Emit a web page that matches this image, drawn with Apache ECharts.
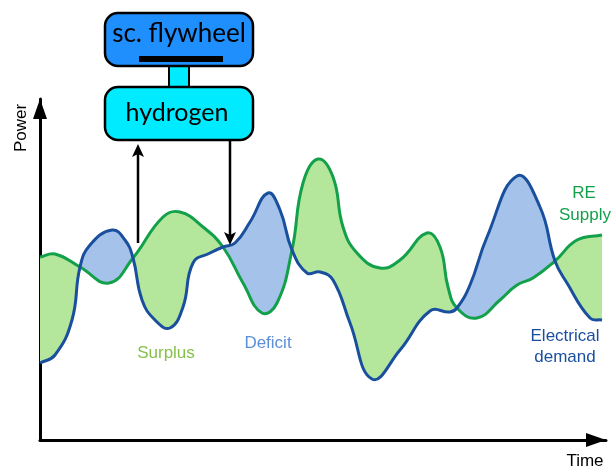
<!DOCTYPE html>
<html>
<head>
<meta charset="utf-8">
<script src="https://cdn.jsdelivr.net/npm/echarts@6/dist/echarts.min.js"></script>
<style>html,body{margin:0;padding:0;background:#fff;}#c{width:613px;height:469px;}</style>
</head>
<body>
<div id="c"></div>
<script>
// Time (x) and power (y) samples
const supplyX = [0, 15, 40, 69, 93, 123, 140, 163, 183, 203, 222, 237, 252, 263, 278, 293, 303, 317, 340, 360, 387, 400, 408, 417, 437, 460, 477, 493, 515, 537, 562];
const supplyY = [183, 186, 173, 157, 182, 223, 228, 213, 193, 157, 127, 137, 190, 257, 281, 263, 213, 187, 172, 180, 207, 193, 153, 132, 122, 140, 155, 162, 179, 200, 205];
const demandX = [0, 15, 32, 40, 50, 72, 85, 93, 102, 115, 130, 143, 153, 170, 183, 195, 210, 228, 240, 252, 267, 280, 293, 310, 332, 360, 390, 410, 417, 430, 447, 477, 500, 515, 527, 550, 562];
const demandY = [77, 85, 120, 173, 195, 210, 200, 182, 140, 120, 112, 133, 177, 187, 193, 197, 218, 247, 230, 190, 167, 168, 160, 117, 61, 90, 129, 128, 132, 155, 203, 264, 233, 179, 157, 122, 120];

const GREEN_LINE = '#12a14a', BLUE_LINE = '#1a4f9e';
const GREEN_FILL = '#b4e69c', BLUE_FILL = '#a5c3ea';
const SMOOTH = 0.45;

function ctrlPts(p) {
  const n = p.length, cin = [], cout = [];
  for (let i = 0; i < n; i++) {
    const prev = p[Math.max(0, i - 1)], next = p[Math.min(n - 1, i + 1)], c = p[i];
    const vx = next[0] - prev[0], vy = next[1] - prev[1];
    const d0 = Math.hypot(c[0] - prev[0], c[1] - prev[1]);
    const d1 = Math.hypot(next[0] - c[0], next[1] - c[1]);
    const s = (d0 + d1) || 1;
    cin.push([c[0] - vx * SMOOTH * d0 / s, c[1] - vy * SMOOTH * d0 / s]);
    cout.push([c[0] + vx * SMOOTH * d1 / s, c[1] + vy * SMOOTH * d1 / s]);
  }
  return {cin, cout};
}
function fwd(p, cp, a, b) {
  let s = '';
  for (let i = a; i < b; i++) {
    s += ' C' + cp.cout[i][0] + ',' + cp.cout[i][1] + ' ' + cp.cin[i + 1][0] + ',' + cp.cin[i + 1][1] + ' ' + p[i + 1][0] + ',' + p[i + 1][1];
  }
  return s;
}
function bwd(p, cp, b, a) {
  let s = '';
  for (let i = b; i > a; i--) {
    s += ' C' + cp.cin[i][0] + ',' + cp.cin[i][1] + ' ' + cp.cout[i - 1][0] + ',' + cp.cout[i - 1][1] + ' ' + p[i - 1][0] + ',' + p[i - 1][1];
  }
  return s;
}
function toPx(api, xs, ys) { return xs.map((x, i) => api.coord([x, ys[i]])); }

function renderLine(xs, ys, color) {
  return function (params, api) {
    const p = toPx(api, xs, ys), cp = ctrlPts(p);
    return {type: 'path', shape: {pathData: 'M' + p[0][0] + ',' + p[0][1] + fwd(p, cp, 0, p.length - 1)},
      style: {fill: 'none', stroke: color, lineWidth: 3}};
  };
}
function interp(xs, ys, x) {
  for (let i = 0; i < xs.length - 1; i++) if (x >= xs[i] && x <= xs[i + 1]) return ys[i] + (ys[i + 1] - ys[i]) * (x - xs[i]) / (xs[i + 1] - xs[i]);
  return ys[ys.length - 1];
}
function renderFills(params, api) {
  const g = toPx(api, supplyX, supplyY), b = toPx(api, demandX, demandY);
  const gc = ctrlPts(g), bc = ctrlPts(b);
  const splits = [[0, 0]];
  supplyX.forEach((x, i) => {
    const j = demandX.indexOf(x);
    if (i > 0 && i < supplyX.length - 1 && j >= 0 && demandY[j] === supplyY[i]) splits.push([i, j]);
  });
  splits.push([supplyX.length - 1, demandX.length - 1]);
  const children = [];
  for (let k = 0; k < splits.length - 1; k++) {
    const [gi0, bi0] = splits[k], [gi1, bi1] = splits[k + 1];
    const xm = (supplyX[gi0] + supplyX[gi1]) / 2;
    const above = interp(supplyX, supplyY, xm) > interp(demandX, demandY, xm);
    const d = 'M' + g[gi0][0] + ',' + g[gi0][1] + fwd(g, gc, gi0, gi1) + ' L' + b[bi1][0] + ',' + b[bi1][1] + bwd(b, bc, bi1, bi0) + ' Z';
    children.push({type: 'path', shape: {pathData: d}, style: {fill: above ? GREEN_FILL : BLUE_FILL, stroke: null}});
  }
  return {type: 'group', children};
}

const chart = echarts.init(document.getElementById('c'), null, {renderer: 'canvas'});
const axisCommon = {
  type: 'value', axisTick: {show: false}, axisLabel: {show: false}, splitLine: {show: false},
  axisLine: {show: true, symbol: ['none', 'triangle'], symbolSize: [14, 20], symbolOffset: [0, -10], lineStyle: {color: '#000', width: 3}}
};
const txt = (x, y, text, color, size, extra) => Object.assign({type: 'text', x, y, style: {text, fill: color, font: (size || 17) + 'px "Liberation Sans", Arial, sans-serif', textAlign: 'center', textVerticalAlign: 'middle'}}, extra || {});
chart.setOption({
  animation: false,
  grid: {left: 40, right: 7, top: 99, bottom: 29},
  xAxis: Object.assign({}, axisCommon, {min: 0, max: 566}),
  yAxis: Object.assign({}, axisCommon, {min: 0, max: 341}),
  series: [
    {type: 'custom', name: 'fills', data: [[0, 0]], renderItem: renderFills, silent: true, z: 1},
    {type: 'custom', name: 'RE Supply', data: [[0, 0]], renderItem: renderLine(supplyX, supplyY, GREEN_LINE), silent: true, z: 3},
    {type: 'custom', name: 'Electrical demand', data: [[0, 0]], renderItem: renderLine(demandX, demandY, BLUE_LINE), silent: true, z: 3}
  ],
  graphic: [
    {type: 'rect', shape: {x: 169, y: 64, width: 20, height: 25}, style: {fill: '#00ebff', stroke: '#000', lineWidth: 2}, z: 10},
    {type: 'rect', shape: {x: 105, y: 13, width: 148, height: 53, r: 13}, style: {fill: '#1e8ffc', stroke: '#000', lineWidth: 2.5}, z: 11},
    {type: 'rect', shape: {x: 139, y: 56, width: 84, height: 6}, style: {fill: '#000'}, z: 12},
    {type: 'text', x: 179, y: 34, style: {text: 'sc. flywheel', fill: '#000', font: '26px Lato, sans-serif', textAlign: 'center', textVerticalAlign: 'middle'}, z: 12},
    {type: 'rect', shape: {x: 105, y: 87, width: 148, height: 53, r: 13}, style: {fill: '#00ebff', stroke: '#000', lineWidth: 2.5}, z: 11},
    {type: 'text', x: 177, y: 113, style: {text: 'hydrogen', fill: '#000', font: '25px Lato, sans-serif', textAlign: 'center', textVerticalAlign: 'middle'}, z: 12},
    {type: 'line', shape: {x1: 138, y1: 243, x2: 138, y2: 152}, style: {stroke: '#000', lineWidth: 2.5}, z: 12},
    {type: 'polygon', shape: {points: [[138, 144], [144, 157], [138, 154], [132, 157]]}, style: {fill: '#000'}, z: 12},
    {type: 'line', shape: {x1: 230, y1: 141, x2: 230, y2: 237}, style: {stroke: '#000', lineWidth: 2.5}, z: 12},
    {type: 'polygon', shape: {points: [[230, 245], [236, 232], [230, 235], [224, 232]]}, style: {fill: '#000'}, z: 12},
    txt(21, 128, 'Power', '#000', 17, {rotation: Math.PI / 2}),
    txt(585, 461, 'Time', '#000', 17),
    txt(166, 353, 'Surplus', '#86c14c', 17),
    txt(268, 343, 'Deficit', '#5b8fd8', 17),
    txt(584, 193, 'RE', '#12a14a', 17),
    txt(585, 215, 'Supply', '#12a14a', 17),
    txt(565, 336, 'Electrical', '#1a4f9e', 17),
    txt(565, 357, 'demand', '#1a4f9e', 17)
  ]
});
</script>
</body>
</html>
